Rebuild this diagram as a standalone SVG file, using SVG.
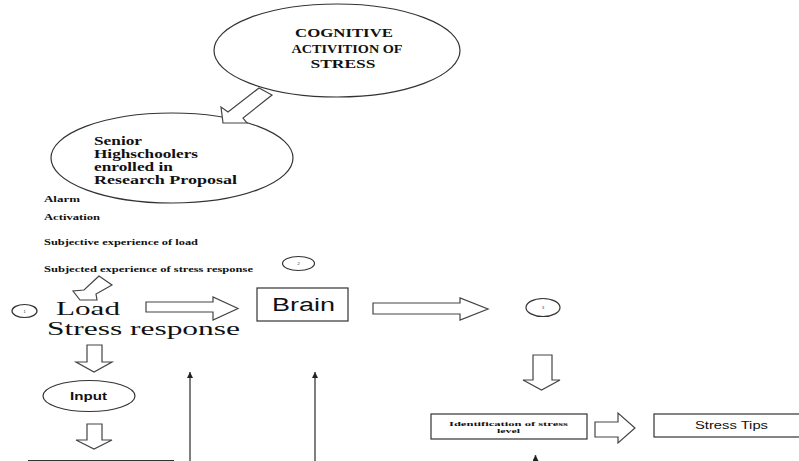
<svg xmlns="http://www.w3.org/2000/svg" width="799" height="461" viewBox="0 0 799 461">
<style>
.bg{fill:#ffffff}
.shape{fill:#ffffff;stroke:#333333;stroke-width:1.2}
.harrow{fill:#ffffff;stroke:#444444;stroke-width:1.2;stroke-linejoin:miter}
.line{stroke:#555555;stroke-width:1.5;fill:none}
.tb{font-family:"Liberation Serif","Times New Roman",serif;font-weight:bold;fill:#111111}
.tr{font-family:"Liberation Serif","Times New Roman",serif;fill:#111111}
.ts{font-family:"Liberation Sans",Arial,sans-serif;fill:#111111}
.tsb{font-family:"Liberation Sans",Arial,sans-serif;font-weight:bold;fill:#111111}
.num{font-family:"Liberation Sans",Arial,sans-serif;font-size:4px;fill:#333333}
</style>
<defs>
<marker id="ah" viewBox="0 0 10 10" refX="10" refY="5" markerWidth="4" markerHeight="4" orient="auto" markerUnits="strokeWidth">
<path d="M0,0 L10,5 L0,10 Z" fill="#222222"/>
</marker>
</defs>
<rect class="bg" x="0" y="0" width="799" height="461"/>

<g id="cognitive">
<ellipse class="shape" cx="337" cy="50.5" rx="123" ry="46.5"/>
<text class="tb" font-size="12.5" x="344" y="37" text-anchor="middle" textLength="98" lengthAdjust="spacingAndGlyphs">COGNITIVE</text>
<text class="tb" font-size="12.5" x="347" y="53" text-anchor="middle" textLength="111" lengthAdjust="spacingAndGlyphs">ACTIVITION OF</text>
<text class="tb" font-size="12.5" x="343" y="68" text-anchor="middle" textLength="65" lengthAdjust="spacingAndGlyphs">STRESS</text>
</g>

<g id="senior">
<ellipse class="shape" cx="172" cy="158" rx="121" ry="45"/>
<text class="tb" font-size="11.5" x="94" y="145" textLength="48" lengthAdjust="spacingAndGlyphs">Senior</text>
<text class="tb" font-size="11.5" x="94" y="158" textLength="104" lengthAdjust="spacingAndGlyphs">Highschoolers</text>
<text class="tb" font-size="11.5" x="94" y="171" textLength="79" lengthAdjust="spacingAndGlyphs">enrolled in</text>
<text class="tb" font-size="11.5" x="94" y="184" textLength="143" lengthAdjust="spacingAndGlyphs">Research Proposal</text>
</g>

<g id="list">
<text class="tb" font-size="8.5" x="44" y="202" textLength="36" lengthAdjust="spacingAndGlyphs">Alarm</text>
<text class="tb" font-size="8.5" x="44" y="220" textLength="56" lengthAdjust="spacingAndGlyphs">Activation</text>
<text class="tb" font-size="8.5" x="44" y="245" textLength="154" lengthAdjust="spacingAndGlyphs">Subjective experience of load</text>
<text class="tb" font-size="8.5" x="44" y="272" textLength="209" lengthAdjust="spacingAndGlyphs">Subjected experience of stress response</text>
</g>

<g id="circle2">
<ellipse class="shape" cx="298.5" cy="263.5" rx="16" ry="7"/>
<text class="num" x="298.5" y="265" text-anchor="middle">2</text>
</g>

<g id="circle1">
<ellipse class="shape" cx="24.5" cy="311" rx="12.5" ry="6.5"/>
<text class="num" x="24.5" y="312.5" text-anchor="middle">1</text>
</g>

<g id="load">
<text class="tr" font-size="19" x="56" y="315" textLength="64" lengthAdjust="spacingAndGlyphs">Load</text>
<text class="tr" font-size="19" x="47" y="335" textLength="193" lengthAdjust="spacingAndGlyphs">Stress response</text>
</g>

<g id="brain">
<rect class="shape" x="257" y="288" width="91" height="33"/>
<text class="ts" font-size="18" x="272" y="311" textLength="63" lengthAdjust="spacingAndGlyphs">Brain</text>
</g>

<g id="circle3">
<ellipse class="shape" cx="543" cy="307.5" rx="17" ry="9"/>
<text class="num" x="543" y="309" text-anchor="middle">3</text>
</g>

<g id="input">
<ellipse class="shape" cx="89" cy="396" rx="46" ry="15.5"/>
<text class="tsb" font-size="11" x="70" y="400" textLength="37" lengthAdjust="spacingAndGlyphs">Input</text>
</g>

<g id="identification">
<rect class="shape" x="431" y="414" width="156" height="25"/>
<text class="tb" font-size="7" x="508.5" y="425.5" text-anchor="middle" textLength="119" lengthAdjust="spacingAndGlyphs">Identification of stress</text>
<text class="tb" font-size="7" x="508.5" y="433" text-anchor="middle" textLength="23" lengthAdjust="spacingAndGlyphs">level</text>
</g>

<g id="stresstips">
<rect class="shape" x="654" y="414" width="150" height="23"/>
<text class="ts" font-size="10" x="731.5" y="429" text-anchor="middle" textLength="73" lengthAdjust="spacingAndGlyphs">Stress Tips</text>
</g>

<g id="bottombox">
<line x1="28" y1="460.5" x2="174" y2="460.5" stroke="#333333" stroke-width="1.2"/>
</g>

<g id="connectors">
<polygon class="harrow" points="259,88 228,112 221,107 223,123 247,123 243,118 272,95"/>
<polygon class="harrow" points="99,276 84,290 73,291 80,300 97,300 96,294 112,285"/>
<polygon class="harrow" points="146,302 213,302 213,297 238,308.5 213,320 213,312 146,312"/>
<polygon class="harrow" points="373,303 460,303 460,298 488,309 460,320 460,314 373,314"/>
<polygon class="harrow" points="87,345 102,345 102,362 112,362 94,372 76,362 87,362"/>
<polygon class="harrow" points="87,424 102,424 102,440 112,440 94,449 76,440 87,440"/>
<polygon class="harrow" points="533,355 552,355 552,380 560,380 541.5,390 523,380 533,380"/>
<polygon class="harrow" points="595,422 618,422 618,413 635,428 618,443 618,437 595,437"/>
<line class="line" x1="190" y1="461" x2="190" y2="372" marker-end="url(#ah)"/>
<line class="line" x1="315" y1="461" x2="315" y2="372" marker-end="url(#ah)"/>
<line class="line" x1="535.5" y1="464" x2="535.5" y2="455" marker-end="url(#ah)"/>
</g>
</svg>
